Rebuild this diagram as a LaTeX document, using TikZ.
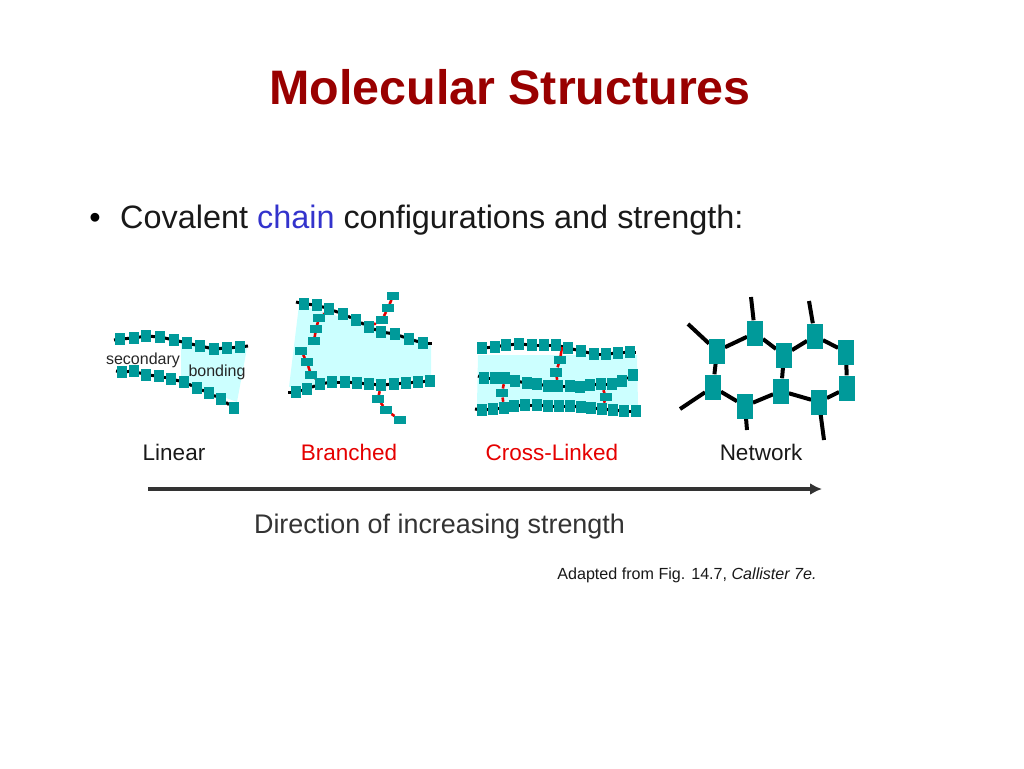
\documentclass[tikz,border=0pt]{standalone}
\usepackage{fontspec}
\setmainfont{Liberation Sans}
\usetikzlibrary{arrows.meta,backgrounds}

\definecolor{monoteal}{HTML}{009A9A}
\definecolor{zonecyan}{HTML}{CCFFFF}

\newcommand{\polychain}[4]{
  \foreach \p [count=\i, remember=\i as \j (initially 0)] in {#4} {
    \node [#2] (#1\i) at \p {};
    \ifnum\i>1
      \begin{scope}[on background layer]
        \draw [#3] (#1\j) -- (#1\i);
      \end{scope}
    \fi
  }
}

\begin{document}
\begin{tikzpicture}[x=1pt, y=-1pt]
  \tikzstyle{monomer}=[rectangle, fill=monoteal, minimum width=9.5pt, minimum height=12pt, inner sep=0pt]
  \tikzstyle{sidemer}=[rectangle, fill=monoteal, minimum width=12pt, minimum height=7.5pt, inner sep=0pt]
  \tikzstyle{netmer}=[rectangle, fill=monoteal, minimum width=15.5pt, minimum height=25pt, inner sep=0pt]
  \tikzstyle{backbone}=[draw=black, line width=3pt]
  \tikzstyle{crosslink}=[draw=red!90!black, line width=2.6pt]
  \tikzstyle{netbond}=[draw=black, line width=4pt]
  \tikzstyle{bondzone}=[fill=zonecyan]
  \tikzstyle{caption}=[text=black!90, font=\fontsize{22.5}{26}\selectfont, inner sep=0pt, anchor=base]
  \tikzstyle{smalltext}=[text=black!85, font=\fontsize{16}{18}\selectfont, inner sep=0pt, anchor=base]

  \useasboundingbox (0,0) rectangle (1024,768);

  % headings
  \node [text=red!60!black, font=\fontsize{48.4}{56}\selectfont\bfseries, inner sep=0pt, anchor=base] (title) at (510,104) {Molecular Structures};
  \node [text=black!90, font=\fontsize{32.4}{38}\selectfont, inner sep=0pt, anchor=base west] (subtitle) at (120,228)
    {Covalent \textcolor[HTML]{3333CC}{chain} configurations and strength:};
  \node [text=black, font=\fontsize{32.4}{38}\selectfont, inner sep=0pt, anchor=base] (bullet) at (95,228) {•};

  % linear
  \begin{scope}[on background layer]
    \fill [bondzone] (181,343) -- (247,348) -- (237,402) -- (181,381) -- cycle;
  \end{scope}
  \polychain{lintop}{monomer}{backbone}{(120,339),(134,338),(146,336),(160,337),(174,340),(187,343),(200,346),(214,349),(227,348),(240,347)}
  \polychain{linlow}{monomer}{backbone}{(122,372),(134,371),(146,375),(159,376),(171,379),(184,382),(197,388),(209,393),(221,399),(234,408)}
  \coordinate (lintop_a) at (114,340);
  \coordinate (lintop_b) at (248,346);
  \coordinate (linlow_a) at (116,371);
  \begin{scope}[on background layer]
    \draw [backbone] (lintop_a) -- (lintop1);
    \draw [backbone] (lintop10) -- (lintop_b);
    \draw [backbone] (linlow_a) -- (linlow1);
  \end{scope}
  \node [smalltext] (secondary) at (143,364) {secondary};
  \node [smalltext] (bonding) at (217,376) {bonding};

  % branched
  \begin{scope}[on background layer]
    \fill [bondzone] (299,305) -- (431,343) -- (431,377) -- (289,387) -- cycle;
  \end{scope}
  \polychain{brtop}{monomer}{backbone}{(304,304),(317,305),(329,309),(343,314),(356,320),(369,327),(381,332),(395,334),(409,339),(423,343)}
  \polychain{brlow}{monomer}{backbone}{(296,392),(307,389),(320,384),(332,382),(345,382),(357,383),(369,384),(381,385),(394,384),(406,383),(418,382),(430,381)}
  \polychain{bra}{sidemer}{crosslink}{(319,318),(316,329),(314,341)}
  \polychain{brb}{sidemer}{crosslink}{(382,320),(388,308),(393,296)}
  \polychain{brc}{sidemer}{crosslink}{(311,375),(307,362),(301,351)}
  \polychain{brd}{sidemer}{crosslink}{(378,399),(386,410),(400,420)}
  \coordinate (brtop_a) at (296,302);
  \coordinate (brtop_b) at (432,343);
  \coordinate (brlow_a) at (288,392);
  \begin{scope}[on background layer]
    \draw [backbone] (brtop_a) -- (brtop1);
    \draw [backbone] (brtop10) -- (brtop_b);
    \draw [backbone] (brlow_a) -- (brlow1);
    \draw [crosslink] (brtop3) -- (bra1);
    \draw [crosslink] (brtop6) -- (brb1);
    \draw [crosslink] (brlow3) -- (brc1);
    \draw [crosslink] (brlow8) -- (brd1);
  \end{scope}

  % cross-linked
  \begin{scope}[on background layer]
    \fill [bondzone] (478,355) -- (637,355) -- (638,405) -- (477,405) -- cycle;
  \end{scope}
  \polychain{xtop}{monomer}{backbone}{(482,348),(495,347),(506,345),(519,344),(532,345),(544,345),(556,345),(568,348),(581,351),(594,354),(606,354),(618,353),(630,352)}
  \polychain{xmid}{monomer}{backbone}{(484,378),(495,378),(505,378),(515,381),(527,383),(537,384),(548,386),(558,386),(570,386),(580,387),(590,385),(601,384),(612,384),(622,381),(633,375)}
  \polychain{xlow}{monomer}{backbone}{(482,410),(493,409),(504,408),(514,406),(525,405),(537,405),(548,406),(559,406),(570,406),(581,407),(591,408),(602,409),(613,410),(624,411),(636,411)}
  \node [sidemer] (xa) at (560,360) {};
  \node [sidemer, minimum height=9pt] (xb) at (556,372) {};
  \node [sidemer, minimum height=8.5pt] (xc) at (502,393) {};
  \node [sidemer] (xd) at (606,397) {};
  \coordinate (xtop_a) at (478,348);
  \coordinate (xtop_b) at (635,352);
  \coordinate (xmid_a) at (478,376);
  \coordinate (xlow_a) at (475,409);
  \coordinate (xtop_c) at (562,347);
  \begin{scope}[on background layer]
    \draw [backbone] (xtop_a) -- (xtop1);
    \draw [backbone] (xtop13) -- (xtop_b);
    \draw [backbone] (xmid_a) -- (xmid1);
    \draw [backbone] (xlow_a) -- (xlow1);
    \draw [crosslink] (xtop_c) -- (xa) -- (xb) -- (xmid8);
    \draw [crosslink] (xmid3) -- (xc) -- (xlow3);
    \draw [crosslink] (xmid12) -- (xd) -- (xlow12);
  \end{scope}

  % network
  \node [netmer] (neta) at (717,351) {};
  \node [netmer] (netb) at (755,333) {};
  \node [netmer] (netc) at (784,355) {};
  \node [netmer] (netd) at (815,336) {};
  \node [netmer] (nete) at (846,352) {};
  \node [netmer] (netf) at (713,387) {};
  \node [netmer] (netg) at (745,406) {};
  \node [netmer] (neth) at (781,391) {};
  \node [netmer] (neti) at (819,402) {};
  \node [netmer] (netj) at (847,388) {};
  \coordinate (freea) at (688,324);
  \coordinate (freeb) at (751,297);
  \coordinate (freed) at (809,301);
  \coordinate (freef) at (680,409);
  \coordinate (freeg) at (747,430);
  \coordinate (freei) at (824,440);
  \begin{scope}[on background layer]
    \draw [netbond] (neta) -- (netb) -- (netc) -- (netd) -- (nete) -- (netj) -- (neti) -- (neth) -- (netg) -- (netf) -- (neta);
    \draw [netbond] (netc) -- (neth);
    \draw [netbond] (neta) -- (freea);
    \draw [netbond] (netb) -- (freeb);
    \draw [netbond] (netd) -- (freed);
    \draw [netbond] (netf) -- (freef);
    \draw [netbond] (netg) -- (freeg);
    \draw [netbond] (neti) -- (freei);
  \end{scope}

  % captions
  \node [caption] (linear) at (174,460) {Linear};
  \node [caption, text=red!90!black] (branched) at (349,460) {Branched};
  \node [caption, text=red!90!black] (crosslinked) at (552,460) {Cross-Linked};
  \node [caption] (network) at (761,460) {Network};

  % strength arrow
  \coordinate (arrow_a) at (148,489);
  \coordinate (arrow_b) at (822,489);
  \draw [draw=black!80, line width=3.2pt, -{Latex[length=12pt, width=12pt]}] (arrow_a) -- (arrow_b);
  \node [text=black!80, font=\fontsize{26.9}{30}\selectfont, inner sep=0pt, anchor=base] (direction) at (439.5,533.5) {Direction of increasing strength};
  \node [smalltext, text=black!90, font=\fontsize{16.1}{19}\selectfont] (adapted) at (687,579) {Adapted from Fig. 14.7, \textit{Callister 7e.}};
\end{tikzpicture}
\end{document}
